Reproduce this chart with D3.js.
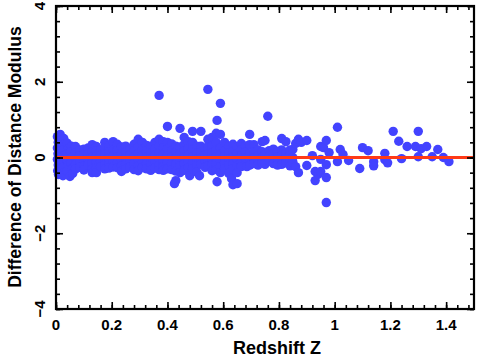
<!DOCTYPE html>
<html>
<head>
<meta charset="utf-8">
<script src="https://cdn.jsdelivr.net/npm/d3@7"></script>
<style>
  body { margin: 0; background: #fff; }
  text { font-family: "Liberation Sans", Arial, sans-serif; font-weight: bold; }
</style>
</head>
<body>
<div id="root"></div>
<script>
// tick labels
var xTickLabels = [0, 0.2, 0.4, 0.6, 0.8, 1, 1.2, 1.4]
var yTickLabels = [-4, -2, 0, 2, 4]

// [redshift z, difference of distance modulus]
var coreZ = [
  [0.005,0.55],[0.008,0.40],[0.005,0.25],[0.007,0.10],[0.005,-0.05],[0.008,-0.20],[0.006,-0.35],[0.009,-0.45],
  [0.015,0.61],[0.018,0.45],[0.016,0.30],[0.015,0.15],[0.017,0.0],[0.016,-0.15],[0.018,-0.30],[0.015,-0.42],
  [0.028,0.50],[0.026,0.35],[0.027,0.20],[0.03,0.05],[0.028,-0.10],[0.026,-0.25],[0.03,-0.40],[0.025,-0.48],
  [0.04,0.38],[0.042,0.22],[0.038,0.08],[0.04,-0.08],[0.043,-0.22],[0.04,-0.36],[0.05,-0.50],
  [0.055,0.30],[0.052,0.15],[0.056,0.0],[0.054,-0.15],[0.057,-0.30],[0.06,-0.42]
]
var lowZ = [
  [0.07,0.29],[0.07,0.12],[0.07,-0.03],[0.07,-0.18],[0.07,-0.30],
  [0.085,0.20],[0.085,0.05],[0.085,-0.12],[0.085,-0.26],
  [0.10,0.22],[0.10,0.08],[0.10,-0.08],[0.10,-0.22],[0.10,-0.33],
  [0.115,0.25],[0.115,0.10],[0.115,-0.05],[0.115,-0.20],
  [0.13,0.34],[0.13,0.15],[0.13,0.0],[0.13,-0.15],[0.13,-0.30],[0.13,-0.40],
  [0.145,0.29],[0.145,0.18],[0.145,0.03],[0.145,-0.12],[0.145,-0.28],[0.145,-0.40],
  [0.16,0.20],[0.16,0.06],[0.16,-0.10],[0.16,-0.24],
  [0.175,0.40],[0.175,0.24],[0.175,0.08],[0.175,-0.06],[0.175,-0.20],[0.175,-0.30],
  [0.19,0.30],[0.19,0.14],[0.19,-0.02],[0.19,-0.16],[0.19,-0.28],
  [0.205,0.42],[0.205,0.20],[0.205,0.04],[0.205,-0.12],[0.205,-0.25],
  [0.22,0.35],[0.22,0.18],[0.22,0.02],[0.22,-0.14],[0.22,-0.27],
  [0.235,0.28],[0.235,0.10],[0.235,-0.06],[0.235,-0.22],[0.235,-0.37],
  [0.25,0.30],[0.25,0.14],[0.25,-0.02],[0.25,-0.18],[0.25,-0.30],
  [0.265,0.22],[0.265,0.06],[0.265,-0.10],[0.265,-0.25],
  [0.28,0.35],[0.28,0.18],[0.28,0.02],[0.28,-0.15],[0.28,-0.32],
  [0.295,0.48],[0.295,0.28],[0.295,0.10],[0.295,-0.06],[0.295,-0.22],[0.295,-0.35],
  [0.31,0.40],[0.31,0.22],[0.31,0.05],[0.31,-0.12],[0.31,-0.26],
  [0.325,0.32],[0.325,0.16],[0.325,0.0],[0.325,-0.16],[0.325,-0.30],
  [0.34,0.30],[0.34,0.12],[0.34,-0.04],[0.34,-0.20],[0.34,-0.34]
]
var midZ = [
  [0.355,0.40],[0.355,0.22],[0.355,0.06],[0.355,-0.10],[0.355,-0.28],
  [0.37,1.64],[0.37,0.48],[0.37,0.30],[0.37,0.12],[0.37,-0.04],[0.37,-0.20],[0.37,-0.32],
  [0.385,0.42],[0.385,0.25],[0.385,0.08],[0.385,-0.08],[0.385,-0.24],[0.385,-0.34],
  [0.40,0.82],[0.40,0.40],[0.40,0.22],[0.40,0.05],[0.40,-0.12],[0.40,-0.30],
  [0.415,0.36],[0.415,0.18],[0.415,0.02],[0.415,-0.15],[0.415,-0.32],
  [0.43,0.30],[0.43,0.14],[0.43,-0.02],[0.43,-0.18],[0.43,-0.36],[0.43,-0.61],[0.425,-0.69],
  [0.445,0.77],[0.445,0.28],[0.445,0.10],[0.445,-0.06],[0.445,-0.22],[0.445,-0.40],
  [0.46,0.53],[0.46,0.34],[0.46,0.18],[0.46,0.0],[0.46,-0.16],[0.46,-0.34],
  [0.475,0.42],[0.475,0.24],[0.475,0.06],[0.475,-0.10],[0.475,-0.26],[0.48,-0.48],
  [0.49,0.69],[0.49,0.40],[0.49,0.20],[0.49,0.02],[0.49,-0.14],[0.49,-0.30],
  [0.505,0.30],[0.505,0.12],[0.505,-0.04],[0.505,-0.20],[0.505,-0.38],
  [0.52,0.69],[0.52,0.30],[0.52,0.14],[0.52,-0.02],[0.52,-0.18],[0.515,-0.48],
  [0.535,0.24],[0.535,0.06],[0.535,-0.10],[0.535,-0.26],
  [0.545,1.80],[0.545,0.48],[0.545,0.28],[0.545,0.10],[0.545,-0.08],[0.545,-0.22],
  [0.56,0.53],[0.56,0.30],[0.56,0.12],[0.56,-0.04],[0.56,-0.20],[0.56,-0.35],
  [0.578,0.98],[0.575,0.64],[0.575,0.40],[0.575,0.20],[0.575,0.02],[0.575,-0.16],[0.575,-0.32],[0.578,-0.64],
  [0.59,1.43],[0.59,0.61],[0.59,0.25],[0.59,0.08],[0.59,-0.08],[0.59,-0.24],[0.59,-0.40],
  [0.605,0.40],[0.605,0.18],[0.605,0.02],[0.605,-0.14],[0.605,-0.30],
  [0.62,0.30],[0.62,0.12],[0.62,-0.04],[0.62,-0.20],[0.62,-0.42],
  [0.63,-0.56],[0.635,-0.72],[0.65,-0.69],
  [0.635,0.35],[0.635,0.16],[0.635,0.0],[0.635,-0.16],[0.635,-0.30],
  [0.65,0.28],[0.65,0.10],[0.65,-0.06],[0.65,-0.22],[0.65,-0.40],
  [0.665,0.37],[0.665,0.20],[0.665,0.04],[0.665,-0.12],[0.665,-0.24],
  [0.68,0.30],[0.68,0.14],[0.68,-0.02],[0.685,-0.24],
  [0.695,0.61],[0.695,0.34],[0.695,0.10],[0.695,-0.06],[0.695,-0.20]
]
var highZ = [
  [0.71,0.34],[0.71,0.14],[0.71,-0.02],[0.71,-0.16],
  [0.725,0.20],[0.725,0.05],[0.725,-0.10],[0.725,-0.20],
  [0.74,0.42],[0.74,0.15],[0.74,0.0],[0.74,-0.14],
  [0.75,0.45],[0.76,1.09],[0.75,0.08],[0.75,-0.06],[0.75,-0.18],
  [0.765,0.18],[0.765,0.04],[0.765,-0.10],
  [0.78,0.22],[0.78,0.10],[0.78,-0.04],[0.78,-0.16],
  [0.795,0.16],[0.795,0.02],[0.795,-0.12],[0.795,-0.20],
  [0.81,0.50],[0.81,0.20],[0.81,0.06],[0.81,-0.08],[0.81,-0.18],
  [0.825,0.42],[0.825,0.12],[0.825,-0.02],[0.825,-0.14],
  [0.84,0.20],[0.84,0.06],[0.84,-0.10],[0.84,-0.22],
  [0.85,0.21],[0.85,0.0],[0.85,-0.12],
  [0.86,0.37],[0.86,-0.24],[0.87,0.48],[0.87,-0.40],[0.88,0.40],
  [0.90,0.45],[0.90,-0.21],[0.92,0.05],[0.93,-0.37],[0.93,-0.61],
  [0.94,-0.45],[0.95,0.29],[0.95,-0.05],[0.95,-0.37],[0.96,0.26],
  [0.97,0.45],[0.97,-0.19],[0.97,-0.53],[0.97,-1.19],[0.98,0.13],
  [1.01,0.80],[1.01,-0.11],[1.02,0.21],[1.03,0.08],[1.05,-0.08],
  [1.09,-0.29],[1.10,0.26],[1.12,0.18],[1.14,-0.11],[1.14,-0.22],
  [1.18,0.11],[1.18,-0.06],[1.19,-0.14],[1.21,0.69],[1.23,0.43],
  [1.24,-0.03],[1.26,0.29],[1.29,0.29],[1.30,0.69],[1.30,0.02],
  [1.31,0.23],[1.33,0.29],[1.35,0.02],[1.37,0.21],[1.39,0.0],[1.41,-0.11]
]
var points = coreZ.concat(lowZ, midZ, highZ)

window.onload = function () {
    var width = 478, height = 357
    var marginLeft = 56, plotRight = 474, marginTop = 6, plotBottom = 309

    var svg = d3.select('#root').append('svg')
        .attr('width', width)
        .attr('height', height)

    var X = d3.scaleLinear().domain([0, 1.5]).range([marginLeft, plotRight])
    var Y = d3.scaleLinear().domain([-4, 4]).range([plotBottom, marginTop])

    // points
    svg.append('g')
        .selectAll('circle')
        .data(points)
        .enter()
        .append('circle')
        .attr('cx', function (d) { return X(d[0]) })
        .attr('cy', function (d) { return Y(d[1]) })
        .attr('r', 4.7)
        .attr('fill', '#4343ff')

    // zero line
    svg.append('line')
        .attr('x1', X(0)).attr('x2', X(1.5))
        .attr('y1', Y(0)).attr('y2', Y(0))
        .attr('stroke', '#ff3a17')
        .attr('stroke-width', 3)

    // minor and major ticks on all four sides, pointing inward
    var xMinor = d3.range(0, 1.5, 0.04)
    var yMinor = d3.range(-4, 4.001, 0.4)
    var yMajor = d3.range(-4, 4.001, 2)
    function tickAxes(axisFn, scale, values, size, tr) {
        var g = svg.append('g')
            .attr('transform', tr)
            .call(axisFn(scale).tickValues(values).tickSize(size).tickFormat(''))
        g.select('.domain').remove()
        g.selectAll('line').attr('stroke', '#000').attr('stroke-width', 1.6)
    }
    tickAxes(d3.axisBottom, X, xMinor, -4, 'translate(0,' + plotBottom + ')')
    tickAxes(d3.axisBottom, X, xTickLabels, -7, 'translate(0,' + plotBottom + ')')
    tickAxes(d3.axisTop, X, xMinor, -4, 'translate(0,' + marginTop + ')')
    tickAxes(d3.axisTop, X, xTickLabels, -7, 'translate(0,' + marginTop + ')')
    tickAxes(d3.axisLeft, Y, yMinor, -4, 'translate(' + marginLeft + ',0)')
    tickAxes(d3.axisLeft, Y, yMajor, -7, 'translate(' + marginLeft + ',0)')
    tickAxes(d3.axisRight, Y, yMinor, -4, 'translate(' + plotRight + ',0)')
    tickAxes(d3.axisRight, Y, yMajor, -7, 'translate(' + plotRight + ',0)')

    svg.append('rect')
        .attr('x', marginLeft).attr('y', marginTop)
        .attr('width', plotRight - marginLeft).attr('height', plotBottom - marginTop)
        .attr('fill', 'none')
        .attr('stroke', '#000')
        .attr('stroke-width', 2.2)

    // tick labels
    var fmt = d3.format('')
    svg.append('g').selectAll('text')
        .data(xTickLabels)
        .enter()
        .append('text')
        .attr('x', function (d) { return X(d) })
        .attr('y', 330)
        .attr('text-anchor', 'middle')
        .attr('font-size', 15)
        .text(function (d) { return fmt(d) })

    svg.append('g').selectAll('text')
        .data(yTickLabels)
        .enter()
        .append('text')
        .attr('transform', function (d) { return 'translate(45,' + Y(d) + ') rotate(-90)' })
        .attr('text-anchor', 'middle')
        .attr('font-size', 15)
        .text(function (d) { return fmt(d) })

    // titles
    svg.append('text')
        .attr('x', 277)
        .attr('y', 354)
        .attr('text-anchor', 'middle')
        .attr('font-size', 18)
        .text('Redshift Z')

    svg.append('text')
        .attr('transform', 'translate(21,157) rotate(-90)')
        .attr('text-anchor', 'middle')
        .attr('font-size', 17.5)
        .text('Difference of Distance Modulus')
}
</script>
</body>
</html>
